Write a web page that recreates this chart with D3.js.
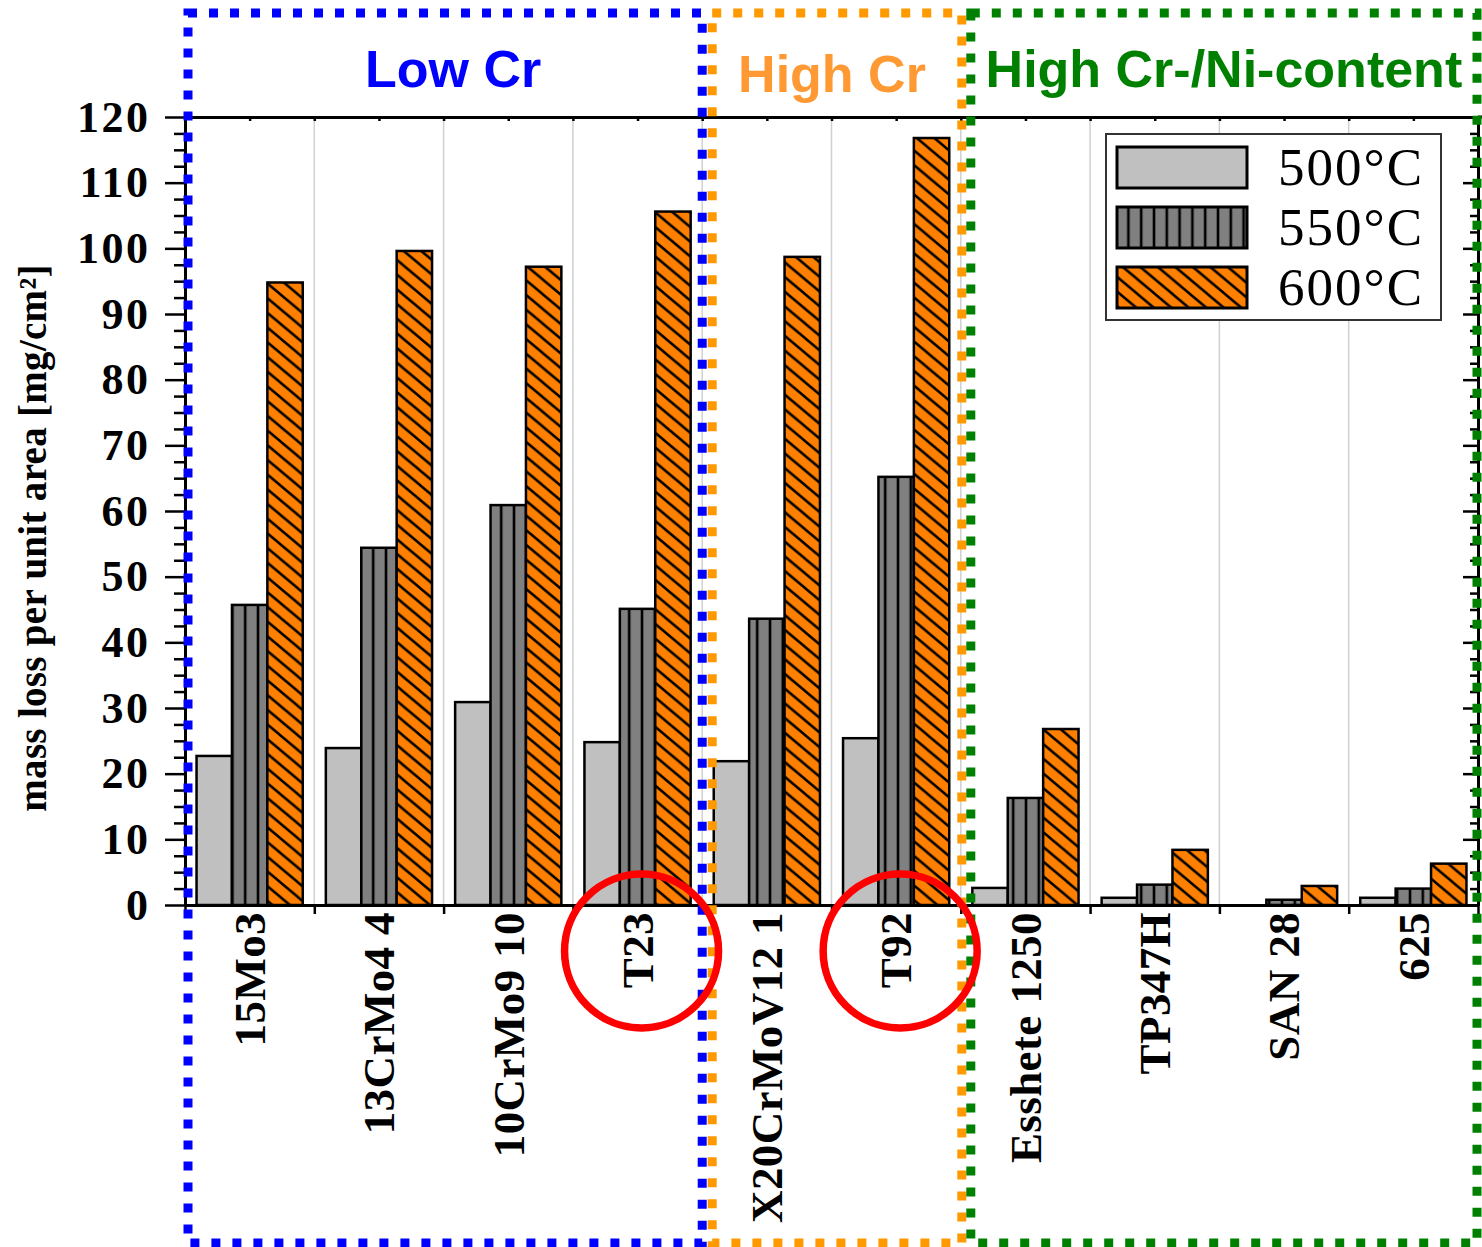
<!DOCTYPE html>
<html>
<head>
<meta charset="utf-8">
<script src="https://cdn.jsdelivr.net/npm/d3@7"></script>
<style>
  html, body { margin: 0; padding: 0; background: #fff; }
  svg { display: block; }
</style>
</head>
<body>
<svg id="chart" width="1482" height="1247"></svg>
<script>
// Mass loss per unit area of steels and alloys after exposure at three temperatures
const categories = ["15Mo3", "13CrMo4 4", "10CrMo9 10", "T23", "X20CrMoV12 1", "T92",
                    "Esshete 1250", "TP347H", "SAN 28", "625"];
const series = ["500°C", "550°C", "600°C"];
const loss500 = [22.7, 23.9, 30.9, 24.8, 21.9, 25.4, 2.6, 1.1, 0.0, 1.1];
const loss550 = [45.7, 54.4, 60.9, 45.1, 43.6, 65.2, 16.3, 3.1, 0.8, 2.5];
const loss600 = [94.8, 99.6, 97.2, 105.6, 98.7, 116.8, 26.8, 8.4, 2.9, 6.3];
const yTicks = [0, 10, 20, 30, 40, 50, 60, 70, 80, 90, 100, 110, 120];
const groups = [
  { name: "Low Cr", first: 0, last: 3 },
  { name: "High Cr", first: 4, last: 5 },
  { name: "High Cr-/Ni-content", first: 6, last: 9 }
];
const highlighted = ["T23", "T92"];

const seriesValues = [loss500, loss550, loss600];

const svg = d3.select("#chart");
const plotLeft = 185, plotRight = 1478, plotTop = 117, plotBottom = 905;
const serif = "'Liberation Serif', 'Times New Roman', serif";
const sans = "'Liberation Sans', Arial, sans-serif";

const x = d3.scaleBand().domain(categories).range([plotLeft, plotRight]).padding(0);
const xSub = d3.scaleBand().domain(series).range([0, x.bandwidth()]).paddingInner(0).paddingOuter(0.326);
const xIdx = d3.scaleLinear().domain([0, categories.length]).range([plotLeft, plotRight]);
const y = d3.scaleLinear().domain([0, 120]).range([plotBottom, plotTop]);

// Fill patterns for the three series
const defs = svg.append("defs");
const pVert = defs.append("pattern").attr("id", "vert")
  .attr("patternUnits", "userSpaceOnUse").attr("width", 12.8).attr("height", 20);
pVert.append("rect").attr("width", 12.8).attr("height", 20).attr("fill", "#808080");
pVert.append("line").attr("x1", 2).attr("x2", 2).attr("y1", -1).attr("y2", 21)
  .attr("stroke", "#000").attr("stroke-width", 2.6);

const dw = 17.5, dh = 14.7;
const pDiag = defs.append("pattern").attr("id", "diag")
  .attr("patternUnits", "userSpaceOnUse").attr("width", dw).attr("height", dh);
pDiag.append("rect").attr("width", dw).attr("height", dh).attr("fill", "#ff8000");
pDiag.append("path")
  .attr("d", `M${-dw},${-dh}L${2 * dw},${2 * dh}M0,${-dh}L${2 * dw},${dh}M${-dw},0L${dw},${2 * dh}`)
  .attr("stroke", "#000").attr("stroke-width", 2.5).attr("fill", "none");

const fills = ["#c0c0c0", "url(#vert)", "url(#diag)"];

// Vertical grid lines at category boundaries
svg.append("g").selectAll("line")
  .data(d3.range(1, categories.length))
  .join("line")
  .attr("x1", d => xIdx(d)).attr("x2", d => xIdx(d))
  .attr("y1", plotTop).attr("y2", plotBottom)
  .attr("stroke", "#d0d0d0").attr("stroke-width", 1.5);

// Bars
const barData = [];
categories.forEach((c, i) => {
  series.forEach((s, j) => barData.push({ cat: c, s, j, v: seriesValues[j][i] }));
});
svg.append("g").selectAll("rect")
  .data(barData.filter(d => d.v > 0))
  .join("rect")
  .attr("x", d => x(d.cat) + xSub(d.s))
  .attr("width", xSub.bandwidth())
  .attr("y", d => y(d.v))
  .attr("height", d => y(0) - y(d.v))
  .attr("fill", d => fills[d.j])
  .attr("stroke", "#000").attr("stroke-width", 2.5);

// Axes
function styleAxis(g, width) {
  g.selectAll("path.domain").attr("stroke", "#000").attr("stroke-width", width);
  g.selectAll(".tick line").attr("stroke", "#000").attr("stroke-width", 2.5);
}

const minorTicks = d3.range(0, 120.01, 2.5).filter(v => v % 10 !== 0);

const yAxis = svg.append("g").attr("transform", `translate(${plotLeft},0)`)
  .call(d3.axisLeft(y).tickValues(yTicks).tickSize(20).tickSizeOuter(0).tickPadding(14.5));
styleAxis(yAxis, 3);
yAxis.selectAll("text").attr("font-family", serif).attr("font-weight", "bold")
  .attr("font-size", 44).attr("letter-spacing", 2.5).attr("fill", "#000");
svg.append("g").attr("transform", `translate(${plotLeft},0)`)
  .call(d3.axisLeft(y).tickValues(minorTicks).tickSize(11).tickSizeOuter(0).tickFormat(""))
  .call(g => styleAxis(g, 3));

const yRight = svg.append("g").attr("transform", `translate(${plotRight},0)`)
  .call(d3.axisLeft(y).tickValues(yTicks).tickSize(15).tickSizeOuter(0).tickFormat(""));
styleAxis(yRight, 3);
svg.append("g").attr("transform", `translate(${plotRight},0)`)
  .call(d3.axisLeft(y).tickValues(minorTicks).tickSize(8).tickSizeOuter(0).tickFormat(""))
  .call(g => styleAxis(g, 3));

const xTop = svg.append("g").attr("transform", `translate(0,${plotTop})`)
  .call(d3.axisTop(xIdx).tickValues(d3.range(0, categories.length + 0.01, 0.5))
    .tickSize(-4).tickSizeOuter(0).tickFormat(""));
styleAxis(xTop, 3);
svg.append("line").attr("x1", plotRight).attr("x2", 1482).attr("y1", plotTop).attr("y2", plotTop)
  .attr("stroke", "#000").attr("stroke-width", 3);

const xTicks = svg.append("g").attr("transform", `translate(0,${plotBottom})`)
  .call(d3.axisBottom(xIdx).tickValues(d3.range(0, categories.length + 0.01, 1))
    .tickSize(9).tickSizeOuter(0).tickFormat(""));
styleAxis(xTicks, 3);

const xLabels = svg.append("g").attr("transform", `translate(0,${plotBottom})`)
  .call(d3.axisBottom(x).tickSize(0).tickSizeOuter(0));
xLabels.select("path.domain").remove();
xLabels.selectAll("text")
  .attr("transform", "rotate(-90)")
  .attr("text-anchor", "end")
  .attr("x", -7).attr("y", 0).attr("dy", "0.34em")
  .attr("font-family", serif).attr("font-weight", "bold")
  .attr("font-size", 45).attr("letter-spacing", 0.4).attr("fill", "#000");

// Y axis title
svg.append("text")
  .attr("transform", "translate(46,538) rotate(-90)")
  .attr("text-anchor", "middle")
  .attr("font-family", serif).attr("font-weight", "bold").attr("font-size", 39)
  .attr("letter-spacing", 0.3)
  .text("mass loss per unit area [mg/cm²]");

// Legend
const legend = svg.append("g");
legend.append("rect").attr("x", 1106).attr("y", 134).attr("width", 335).attr("height", 186)
  .attr("fill", "#fff").attr("stroke", "#333").attr("stroke-width", 2);
series.forEach((s, j) => {
  legend.append("rect").attr("x", 1117).attr("y", 147 + j * 60).attr("width", 130).attr("height", 41)
    .attr("fill", fills[j]).attr("stroke", "#000").attr("stroke-width", 3);
  legend.append("text").attr("x", 1278).attr("y", 185 + j * 60)
    .attr("font-family", serif).attr("font-size", 53).attr("letter-spacing", 2)
    .attr("fill", "#000").text(s);
});

// Dotted group frames with titles
const groupStyle = [
  { color: "#0000ff", text: "#0000ff", x0: 3, x1: 0, dx: 8, ty: 87 },
  { color: "#ff9900", text: "#ff9933", x0: 10, x1: 1, dx: -5, ty: 92 },
  { color: "#008000", text: "#008000", x0: 10, x1: -1, dx: 0, ty: 87 }
];
const frameTop = 13, frameBottom = 1243;
groups.forEach((g, k) => {
  const st = groupStyle[k];
  const gx0 = xIdx(g.first) + st.x0;
  const gx1 = xIdx(g.last + 1) + st.x1;
  svg.append("rect")
    .attr("x", gx0).attr("y", frameTop)
    .attr("width", gx1 - gx0).attr("height", frameBottom - frameTop)
    .attr("fill", "none").attr("stroke", st.color)
    .attr("stroke-width", 9).attr("stroke-dasharray", "9 12");
  svg.append("text")
    .attr("x", (gx0 + gx1) / 2 + st.dx).attr("y", st.ty)
    .attr("text-anchor", "middle")
    .attr("font-family", sans).attr("font-weight", "bold").attr("font-size", 52)
    .attr("fill", st.text).text(g.name);
});

// Highlight rings around selected labels
svg.append("g").selectAll("circle")
  .data(highlighted)
  .join("circle")
  .attr("cx", d => x(d) + x.bandwidth() / 2 + 4)
  .attr("cy", 951)
  .attr("r", 77)
  .attr("fill", "none").attr("stroke", "#ff0000").attr("stroke-width", 7.5);
</script>
</body>
</html>
